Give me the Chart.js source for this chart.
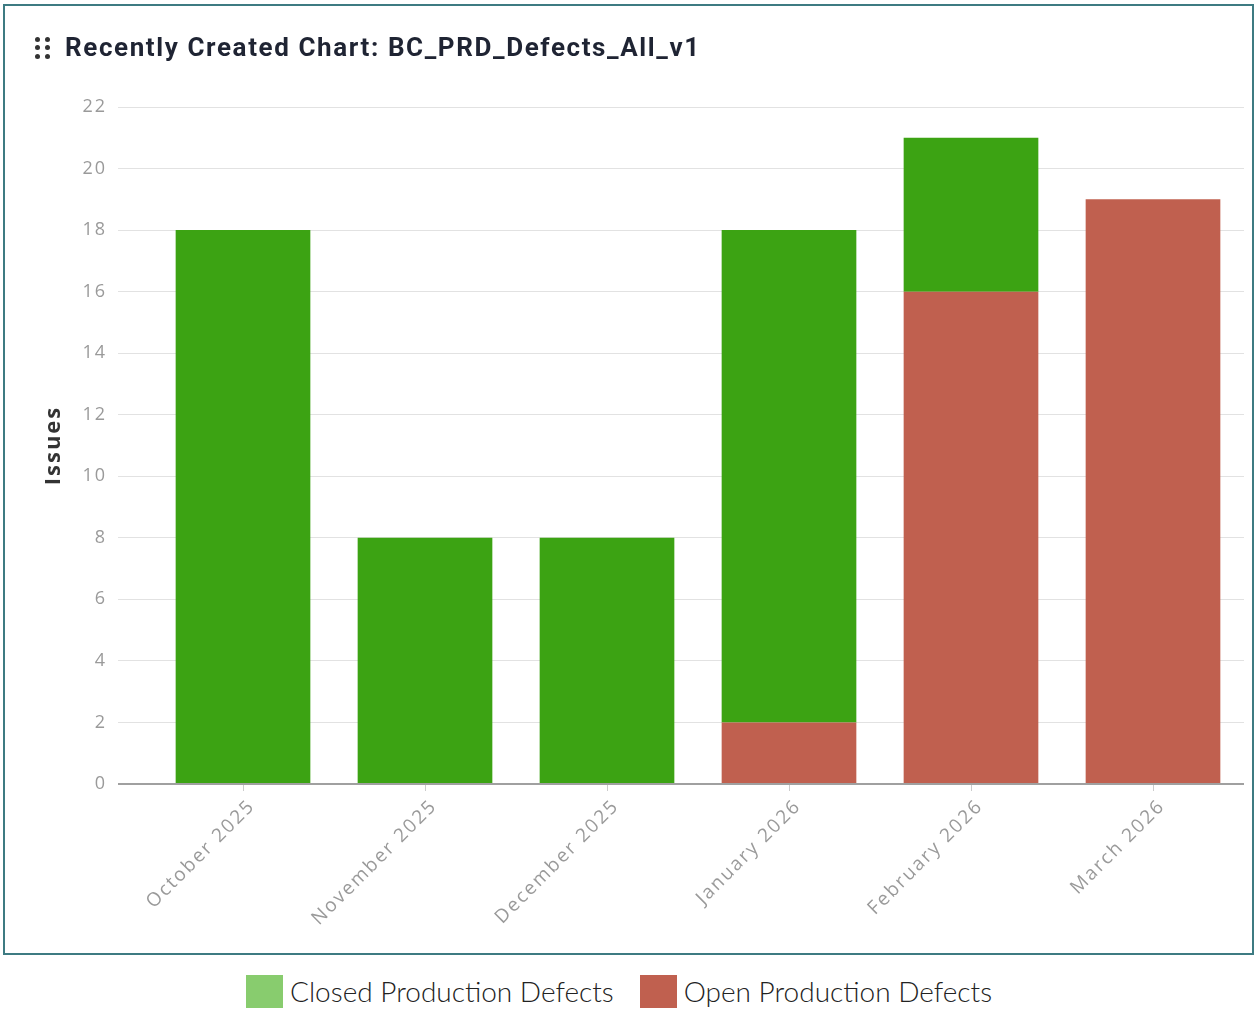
<!DOCTYPE html>
<html>
<head>
<meta charset="utf-8">
<script src="https://cdn.jsdelivr.net/npm/chart.js@4/dist/chart.umd.min.js"></script>
<style>
  body { margin: 0; background: #fff; }
  #page { position: relative; width: 1254px; height: 1013px; overflow: hidden; }
  #chartWrap { position: absolute; left: 0; top: 0; width: 1254px; height: 950px; }
  #box { position: absolute; left: 3px; top: 4px; width: 1251px; height: 951px; border: 2px solid #3d7b82; box-sizing: border-box; pointer-events: none; }
  #title { position: absolute; left: 65px; top: 32px; font: 700 26px Roboto, sans-serif; letter-spacing: 1.6px; color: #1f2433; white-space: nowrap; }
  .dot { position: absolute; width: 5px; height: 5px; border-radius: 50%; background: #333; }
  #legend { position: absolute; left: 246px; top: 974px; display: flex; align-items: center; font: 300 28px Lato, sans-serif; color: #222; }
  .swatch { width: 37px; height: 33px; margin-right: 7px; }
  .item { display: flex; align-items: center; margin-right: 26px; }
</style>
</head>
<body>
<div id="page">
  <div id="chartWrap"><canvas id="barChart"></canvas></div>
  <div id="box"></div>
  <div class="dot" style="left:35px;top:37px"></div>
  <div class="dot" style="left:45px;top:37px"></div>
  <div class="dot" style="left:35px;top:45px"></div>
  <div class="dot" style="left:45px;top:45px"></div>
  <div class="dot" style="left:35px;top:54px"></div>
  <div class="dot" style="left:45px;top:54px"></div>
  <div id="title">Recently Created Chart: BC_PRD_Defects_All_v1</div>
  <div id="legend"></div>
</div>
<script>
const months = ["October 2025", "November 2025", "December 2025", "January 2026", "February 2026", "March 2026"];
const closedDefects = [18, 8, 8, 16, 5, 0];
const openDefects = [0, 0, 0, 2, 16, 19];

const barColors = {closed: "#3ca313", open: "#c0604f"};
const legendColors = {closed: "#88cc6e", open: "#c0604f"};

const yTickFont = {family: "Open Sans", size: 18};
const xTickFont = {family: "Open Sans", size: 19};

// wide-tracked axis text
const spacing = {
    id: "spacing",
    beforeUpdate: chart => { chart.ctx.letterSpacing = "2px"; },
    beforeDraw: chart => { chart.ctx.letterSpacing = "2px"; }
};

new Chart(document.getElementById("barChart").getContext("2d"), {
    type: "bar",
    data: {
        labels: months,
        datasets: [{
            label: "Open Production Defects",
            data: openDefects,
            backgroundColor: barColors.open
        }, {
            label: "Closed Production Defects",
            data: closedDefects,
            backgroundColor: barColors.closed
        }]
    },
    options: {
        responsive: true,
        maintainAspectRatio: false,
        animation: false,
        barPercentage: 0.74,
        categoryPercentage: 1,
        layout: {padding: {top: 107, left: 35, right: 10, bottom: 16}},
        plugins: {
            legend: {display: false},
            tooltip: {enabled: false}
        },
        scales: {
            x: {
                stacked: true,
                border: {display: false},
                grid: {drawOnChartArea: false, offset: false, tickLength: 7, color: "#cccccc"},
                ticks: {minRotation: 45, maxRotation: 45, autoSkip: false, color: "#9a9a9a", font: xTickFont, padding: 4, labelOffset: 9},
                afterFit: scale => { scale.height = 150; }
            },
            y: {
                stacked: true,
                min: 0,
                max: 22,
                border: {display: false},
                grid: {
                    tickLength: 34,
                    color: ctx => ctx.tick && ctx.tick.value === 0 ? "#a0a0a0" : "#e2e2e2",
                    lineWidth: ctx => ctx.tick && ctx.tick.value === 0 ? 2 : 1
                },
                ticks: {stepSize: 2, color: "#9a9a9a", font: yTickFont, padding: 11},
                title: {
                    display: true,
                    text: "Issues",
                    color: "#333333",
                    font: {family: "Open Sans", size: 22, weight: "bold"},
                    padding: {top: 6, bottom: 0}
                },
                afterFit: scale => { scale.width = 117; }
            }
        }
    },
    plugins: [spacing]
});

// legend sits under the framed panel
const legend = document.getElementById("legend");
[["Closed Production Defects", legendColors.closed], ["Open Production Defects", legendColors.open]].forEach(([name, color]) => {
    const item = document.createElement("div");
    item.className = "item";
    const swatch = document.createElement("div");
    swatch.className = "swatch";
    swatch.style.background = color;
    const text = document.createElement("span");
    text.textContent = name;
    item.appendChild(swatch);
    item.appendChild(text);
    legend.appendChild(item);
});
</script>
</body>
</html>
